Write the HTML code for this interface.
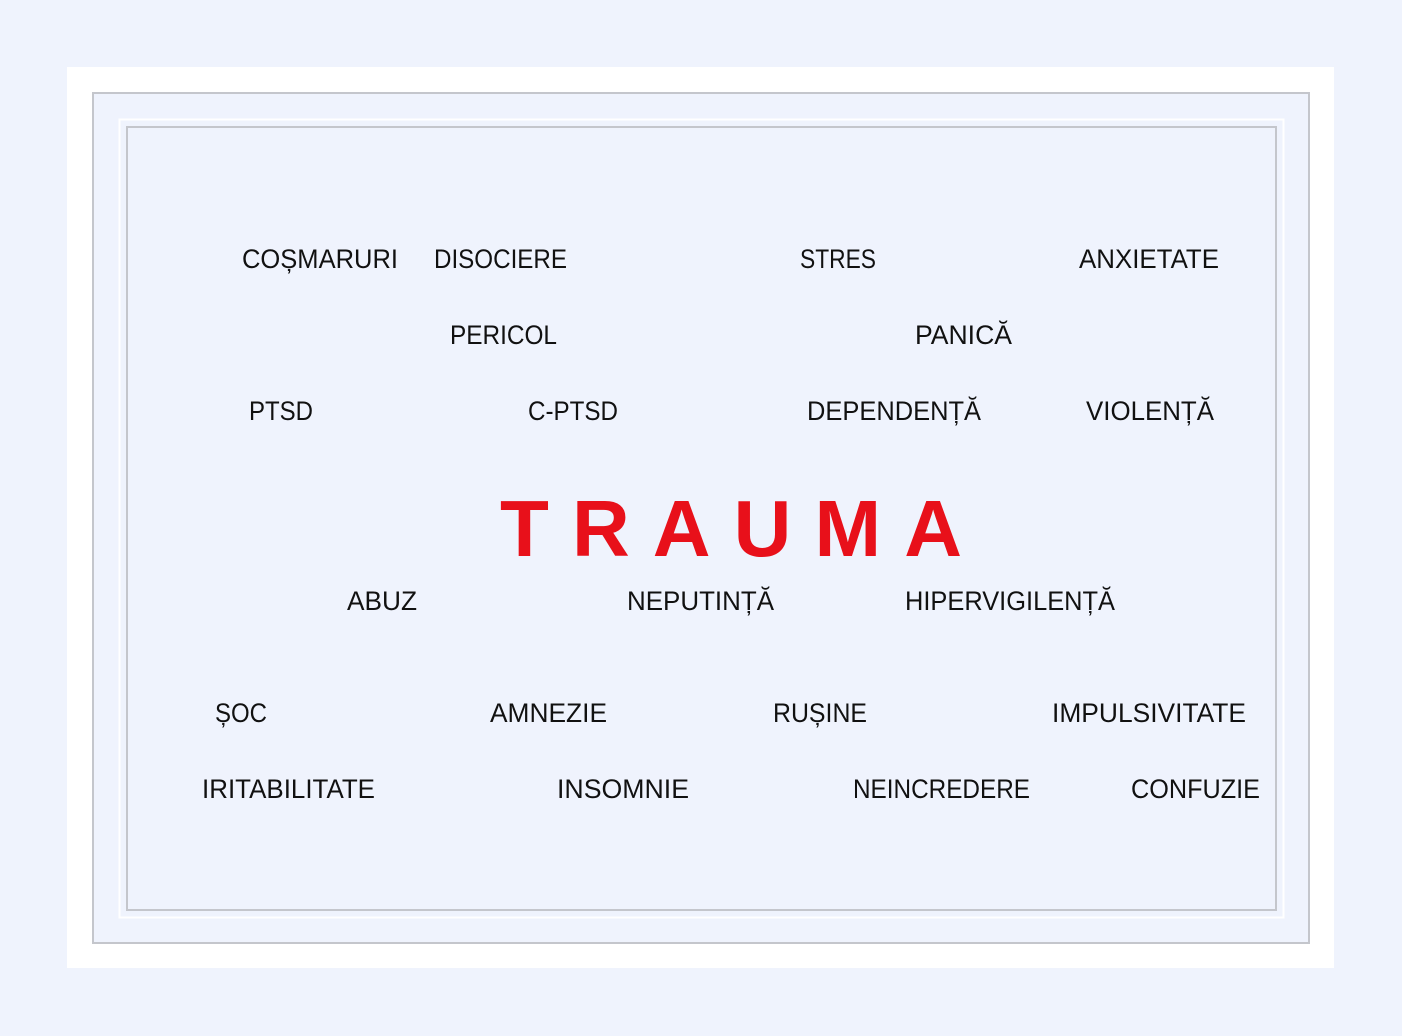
<!DOCTYPE html>
<html><head><style>body{margin:0;background:#eff3fd;}svg{display:block}</style></head><body>
<svg width="1402" height="1036" xmlns="http://www.w3.org/2000/svg">
<rect width="1402" height="1036" fill="#eff3fd"/>
<rect x="67" y="67" width="1267" height="901" fill="#ffffff"/>
<rect x="93" y="93" width="1216" height="850" fill="#eff3fd" stroke="#c4c6cc" stroke-width="2"/>
<rect x="119.5" y="119.5" width="1164" height="798" fill="none" stroke="#ffffff" stroke-width="2"/>
<rect x="127" y="127" width="1149" height="783" fill="#eff3fd" stroke="#c4c6cc" stroke-width="2"/>
<g font-family="Liberation Sans, sans-serif" font-size="27" fill="#111">
<text x="242" y="268" textLength="156" lengthAdjust="spacingAndGlyphs">COȘMARURI</text>
<text x="434" y="268" textLength="133" lengthAdjust="spacingAndGlyphs">DISOCIERE</text>
<text x="800" y="268" textLength="76" lengthAdjust="spacingAndGlyphs">STRES</text>
<text x="1079" y="268" textLength="140" lengthAdjust="spacingAndGlyphs">ANXIETATE</text>
<text x="450" y="344" textLength="107" lengthAdjust="spacingAndGlyphs">PERICOL</text>
<text x="915" y="344" textLength="97" lengthAdjust="spacingAndGlyphs">PANICĂ</text>
<text x="249" y="420" textLength="64" lengthAdjust="spacingAndGlyphs">PTSD</text>
<text x="528" y="420" textLength="90" lengthAdjust="spacingAndGlyphs">C-PTSD</text>
<text x="807" y="420" textLength="174" lengthAdjust="spacingAndGlyphs">DEPENDENȚĂ</text>
<text x="1086" y="420" textLength="128" lengthAdjust="spacingAndGlyphs">VIOLENȚĂ</text>
<text x="347" y="610" textLength="70" lengthAdjust="spacingAndGlyphs">ABUZ</text>
<text x="627" y="610" textLength="147" lengthAdjust="spacingAndGlyphs">NEPUTINȚĂ</text>
<text x="905" y="610" textLength="210" lengthAdjust="spacingAndGlyphs">HIPERVIGILENȚĂ</text>
<text x="215" y="722" textLength="52" lengthAdjust="spacingAndGlyphs">ȘOC</text>
<text x="490" y="722" textLength="117" lengthAdjust="spacingAndGlyphs">AMNEZIE</text>
<text x="773" y="722" textLength="94" lengthAdjust="spacingAndGlyphs">RUȘINE</text>
<text x="1052" y="722" textLength="194" lengthAdjust="spacingAndGlyphs">IMPULSIVITATE</text>
<text x="202" y="798" textLength="173" lengthAdjust="spacingAndGlyphs">IRITABILITATE</text>
<text x="557" y="798" textLength="132" lengthAdjust="spacingAndGlyphs">INSOMNIE</text>
<text x="853" y="798" textLength="177" lengthAdjust="spacingAndGlyphs">NEINCREDERE</text>
<text x="1131" y="798" textLength="129" lengthAdjust="spacingAndGlyphs">CONFUZIE</text>
</g>
<text x="500" y="556" font-family="Liberation Sans, sans-serif" font-weight="bold" font-size="80" fill="#e8101a" textLength="462" lengthAdjust="spacing">TRAUMA</text>
</svg>
</body></html>
